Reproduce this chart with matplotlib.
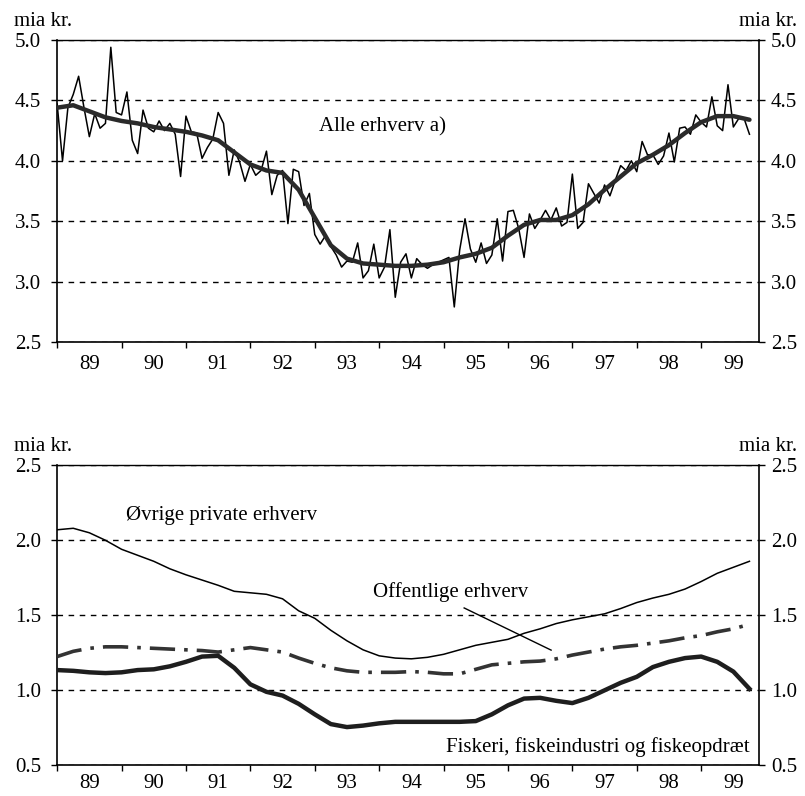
import numpy as np
import matplotlib
matplotlib.use("Agg")
import matplotlib.pyplot as plt
from matplotlib.ticker import FixedLocator, NullFormatter, FixedFormatter
from matplotlib.transforms import ScaledTranslation

plt.rcParams['font.family'] = ['Liberation Serif', 'DejaVu Serif']

# monthly raw series, Jan 1989 - Oct 1999 (mia kr.)
alle_raw = [4.47, 4.00, 4.44, 4.55, 4.70, 4.44, 4.20, 4.39, 4.27, 4.31, 4.94, 4.40,
            4.38, 4.57, 4.17, 4.06, 4.42, 4.27, 4.24, 4.33, 4.25, 4.31, 4.22, 3.87,
            4.37, 4.24, 4.23, 4.02, 4.11, 4.18, 4.40, 4.31, 3.88, 4.09, 3.99, 3.83,
            3.97, 3.88, 3.92, 4.08, 3.72, 3.88, 3.92, 3.48, 3.93, 3.91, 3.63, 3.73,
            3.39, 3.31, 3.38, 3.29, 3.22, 3.12, 3.17, 3.16, 3.32, 3.03, 3.09, 3.31,
            3.03, 3.12, 3.43, 2.87, 3.16, 3.23, 3.03, 3.19, 3.14, 3.11, 3.14, 3.16,
            3.18, 3.20, 2.79, 3.26, 3.52, 3.27, 3.16, 3.32, 3.15, 3.22, 3.52, 3.17,
            3.58, 3.59, 3.44, 3.20, 3.56, 3.44, 3.51, 3.59, 3.51, 3.61, 3.46, 3.49,
            3.89, 3.44, 3.49, 3.81, 3.73, 3.65, 3.80, 3.71, 3.84, 3.96, 3.92, 4.00,
            3.91, 4.16, 4.05, 4.05, 3.97, 4.04, 4.23, 3.99, 4.27, 4.28, 4.22, 4.38,
            4.32, 4.28, 4.53, 4.29, 4.25, 4.63, 4.28, 4.35, 4.35, 4.22]

# trend values, every third month
alle_trend = [4.44, 4.46, 4.41, 4.36, 4.33, 4.31, 4.28, 4.26, 4.24, 4.21, 4.17,
              4.07, 3.97, 3.92, 3.90, 3.76, 3.53, 3.30, 3.19, 3.15, 3.14, 3.13,
              3.13, 3.14, 3.16, 3.20, 3.23, 3.28, 3.38, 3.47, 3.51, 3.51, 3.55,
              3.64, 3.76, 3.87, 3.98, 4.05, 4.13, 4.23, 4.32, 4.37, 4.37, 4.34]

ovrige = [2.07, 2.08, 2.05, 2.00, 1.94, 1.90, 1.86, 1.81, 1.77, 1.735, 1.70,
          1.66, 1.65, 1.64, 1.61, 1.53, 1.48, 1.40, 1.33, 1.27, 1.23, 1.215,
          1.21, 1.22, 1.24, 1.27, 1.30, 1.32, 1.34, 1.38, 1.41, 1.445, 1.47,
          1.49, 1.51, 1.545, 1.585, 1.615, 1.64, 1.675, 1.725, 1.78, 1.82, 1.86]

offentlige = [1.225, 1.26, 1.28, 1.29, 1.29, 1.285, 1.28, 1.275, 1.27, 1.265, 1.255,
              1.27, 1.285, 1.27, 1.255, 1.215, 1.18, 1.15, 1.13, 1.12, 1.12, 1.12,
              1.125, 1.12, 1.11, 1.11, 1.14, 1.17, 1.18, 1.19, 1.195, 1.21, 1.235,
              1.255, 1.275, 1.29, 1.30, 1.315, 1.33, 1.35, 1.365, 1.39, 1.41, 1.44]

fiskeri = [1.135, 1.13, 1.12, 1.115, 1.12, 1.135, 1.14, 1.16, 1.19, 1.225, 1.23,
           1.15, 1.04, 0.99, 0.965, 0.91, 0.84, 0.775, 0.755, 0.765, 0.78, 0.79,
           0.79, 0.79, 0.79, 0.79, 0.795, 0.84, 0.90, 0.945, 0.95, 0.93, 0.915,
           0.95, 1.00, 1.05, 1.09, 1.155, 1.19, 1.215, 1.225, 1.19, 1.125, 1.01]

years = ['89', '90', '91', '92', '93', '94', '95', '96', '97', '98', '99']

x_month = 1989 + np.arange(len(alle_raw)) / 12.0
x_quarter = 1989 + np.arange(0, len(alle_raw), 3) / 12.0

FS = 15

fig = plt.figure(figsize=(8.05, 7.96), dpi=100)
ax1 = fig.add_axes([0.071, 0.5704, 0.872, 0.3793])
ax2 = fig.add_axes([0.071, 0.0385, 0.872, 0.3770])


def style_axis(ax, ymin, ymax, xpad):
    ax.set_xlim(1989, 1999.9)
    ax.set_ylim(ymin, ymax)
    yt = np.arange(ymin, ymax + 0.01, 0.5)
    ax.set_yticks(yt)
    ax.set_yticklabels(['%.1f' % v for v in yt])
    for v in yt:
        ax.axhline(v, color='black', lw=1.0, ls=(0, (4, 4)), zorder=1)
    # year boundaries get the ticks, labels sit mid-year
    ax.xaxis.set_major_locator(FixedLocator(np.arange(1989, 2000)))
    ax.xaxis.set_major_formatter(NullFormatter())
    ax.xaxis.set_minor_locator(FixedLocator(np.arange(1989.5, 2000)))
    ax.xaxis.set_minor_formatter(FixedFormatter(years))
    ax.tick_params(axis='x', which='major', direction='out', length=4.5, width=1)
    ax.tick_params(axis='x', which='minor', length=0, pad=xpad, labelsize=FS)
    ax.tick_params(axis='y', which='major', direction='out', length=4.5, width=1,
                   labelsize=FS, left=True, right=True,
                   labelleft=True, labelright=True, pad=7)
    # right-hand labels sit a bit closer to the spine
    shift = ScaledTranslation(-3 / 72, 0, fig.dpi_scale_trans)
    for t in ax.yaxis.get_major_ticks():
        t.label2.set_transform(t.label2.get_transform() + shift)
    for s in ['left', 'right', 'bottom']:
        ax.spines[s].set_linewidth(1.2)
    ax.spines['top'].set_linewidth(1.0)
    ax.text(-0.062, 1.046, 'mia kr.', transform=ax.transAxes, fontsize=FS,
            ha='left', va='baseline')
    ax.text(1.054, 1.046, 'mia kr.', transform=ax.transAxes, fontsize=FS,
            ha='right', va='baseline')


style_axis(ax1, 2.5, 5.0, 9.5)
ax1.plot(x_month, alle_raw, color='black', lw=1.1, zorder=3)
ax1.plot(x_quarter, alle_trend, color='#2a2a2a', lw=3.2, zorder=4,
         solid_joinstyle='round', solid_capstyle='round')
ax1.text(1994.05, 4.28, 'Alle erhverv a)', fontsize=FS, ha='center', va='center')

style_axis(ax2, 0.5, 2.5, 6.5)
ax2.plot(x_quarter, ovrige, color='black', lw=1.1, zorder=3)
ax2.plot(x_quarter, offentlige, color='#333333', lw=2.6, zorder=3,
         dashes=(7, 2.5, 1, 2.5))
ax2.plot(x_quarter, fiskeri, color='#1e1e1e', lw=3.2, zorder=3,
         solid_joinstyle='round')
ax2.text(1990.07, 2.165, 'Øvrige private erhverv', fontsize=FS, ha='left', va='center')
ax2.text(1993.91, 1.655, 'Offentlige erhverv', fontsize=FS, ha='left', va='center')
ax2.plot([1995.32, 1996.67], [1.549, 1.268], color='black', lw=1.0, zorder=4)
ax2.text(1999.75, 0.622, 'Fiskeri, fiskeindustri og fiskeopdræt', fontsize=FS,
         ha='right', va='center')

fig.savefig('out.png', dpi=100)
